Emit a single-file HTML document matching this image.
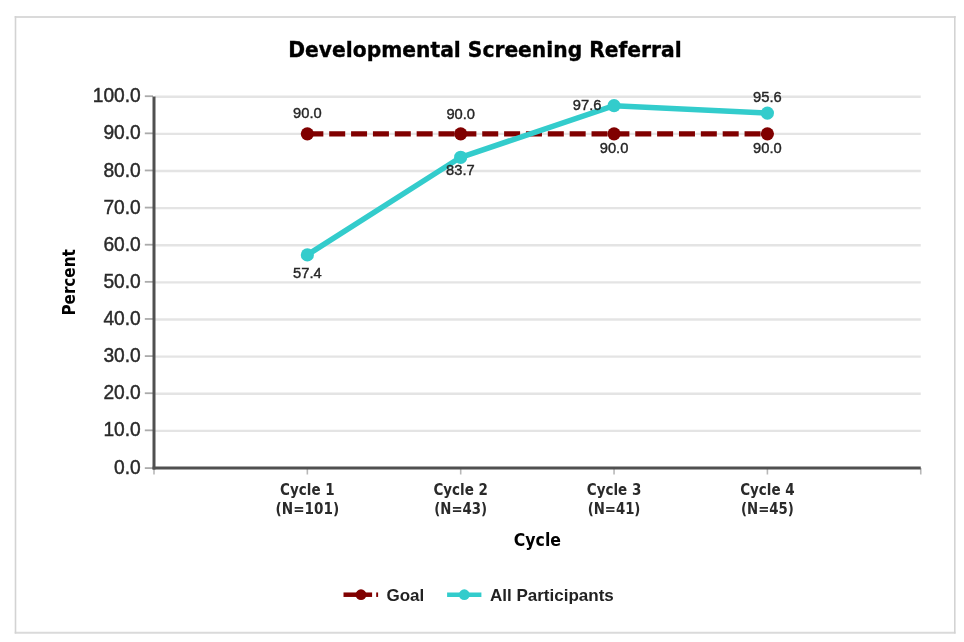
<!DOCTYPE html>
<html>
<head>
<meta charset="utf-8">
<title>Developmental Screening Referral</title>
<style>
html,body{margin:0;padding:0;background:#fff;}
body{width:964px;height:642px;overflow:hidden;position:relative;}
svg{position:absolute;left:0;top:0;display:block;filter:blur(0.4px);}
.yl{font-family:"Liberation Sans",Arial,sans-serif;font-size:20.4px;fill:#2a2a2a;stroke:#2a2a2a;stroke-width:0.45px;text-anchor:end;}
.dl{font-family:"Liberation Sans",Arial,sans-serif;font-size:15.2px;fill:#262626;stroke:#262626;stroke-width:0.4px;text-anchor:middle;}
.xl{font-family:"DejaVu Sans Condensed","DejaVu Sans",sans-serif;font-stretch:condensed;font-weight:bold;font-size:16.3px;fill:#2a2a2a;text-anchor:middle;}
.ttl{font-family:"DejaVu Sans Condensed","DejaVu Sans",sans-serif;font-stretch:condensed;font-weight:bold;font-size:22px;fill:#000;stroke:#000;stroke-width:0.35px;text-anchor:middle;}
.at{font-family:"DejaVu Sans Condensed","DejaVu Sans",sans-serif;font-stretch:condensed;font-weight:bold;font-size:17.5px;fill:#000;text-anchor:middle;}
.lg{font-family:"Liberation Sans",Arial,sans-serif;font-weight:bold;font-size:17px;fill:#222;}
</style>
</head>
<body>
<svg width="964" height="642" viewBox="0 0 964 642">
  <rect x="0" y="0" width="964" height="642" fill="#fff"/>
  <g stroke="#dadada" stroke-width="2"><line x1="14.7" y1="16.95" x2="955.6" y2="16.95"/><line x1="14.7" y1="632.7" x2="955.6" y2="632.7"/></g>
  <g stroke="#d3d3d3" stroke-width="1.6"><line x1="15.5" y1="16" x2="15.5" y2="633.6"/><line x1="954.8" y1="16" x2="954.8" y2="633.6"/></g>
  <text class="ttl" x="485" y="56.5" textLength="393.4" lengthAdjust="spacingAndGlyphs">Developmental Screening Referral</text>
  <g stroke="#e4e4e4" stroke-width="2.3">
  <line x1="155" y1="96.76" x2="920.75" y2="96.76"/>
  <line x1="155" y1="133.89" x2="920.75" y2="133.89"/>
  <line x1="155" y1="171.01" x2="920.75" y2="171.01"/>
  <line x1="155" y1="208.14" x2="920.75" y2="208.14"/>
  <line x1="155" y1="245.26" x2="920.75" y2="245.26"/>
  <line x1="155" y1="282.39" x2="920.75" y2="282.39"/>
  <line x1="155" y1="319.52" x2="920.75" y2="319.52"/>
  <line x1="155" y1="356.64" x2="920.75" y2="356.64"/>
  <line x1="155" y1="393.77" x2="920.75" y2="393.77"/>
  <line x1="155" y1="430.89" x2="920.75" y2="430.89"/>
  </g>
  <g stroke="#ababab" stroke-width="1.8">
  <line x1="144.8" y1="96.21" x2="153" y2="96.21"/>
  <line x1="144.8" y1="133.34" x2="153" y2="133.34"/>
  <line x1="144.8" y1="170.46" x2="153" y2="170.46"/>
  <line x1="144.8" y1="207.59" x2="153" y2="207.59"/>
  <line x1="144.8" y1="244.71" x2="153" y2="244.71"/>
  <line x1="144.8" y1="281.84" x2="153" y2="281.84"/>
  <line x1="144.8" y1="318.97" x2="153" y2="318.97"/>
  <line x1="144.8" y1="356.09" x2="153" y2="356.09"/>
  <line x1="144.8" y1="393.22" x2="153" y2="393.22"/>
  <line x1="144.8" y1="430.34" x2="153" y2="430.34"/>
  <line x1="144.8" y1="468.1" x2="153" y2="468.1"/>
  </g>
  <g stroke="#b8b8b8" stroke-width="1.6">
  <line x1="154" y1="468.1" x2="154" y2="474.5"/>
  <line x1="307.35" y1="468.1" x2="307.35" y2="474.5"/>
  <line x1="460.7" y1="468.1" x2="460.7" y2="474.5"/>
  <line x1="614.05" y1="468.1" x2="614.05" y2="474.5"/>
  <line x1="767.4" y1="468.1" x2="767.4" y2="474.5"/>
  <line x1="920.75" y1="468.1" x2="920.75" y2="474.5"/>
  </g>
  <line x1="154" y1="96.56" x2="154" y2="469.5" stroke="#505050" stroke-width="3.0"/>
  <line x1="152.6" y1="468.1" x2="920.75" y2="468.1" stroke="#505050" stroke-width="3.0"/>
  <g class="yl">
  <text x="140.8" y="102.26" textLength="48.04" lengthAdjust="spacingAndGlyphs">100.0</text>
  <text x="140.8" y="139.39" textLength="37.36" lengthAdjust="spacingAndGlyphs">90.0</text>
  <text x="140.8" y="176.51" textLength="37.36" lengthAdjust="spacingAndGlyphs">80.0</text>
  <text x="140.8" y="213.64" textLength="37.36" lengthAdjust="spacingAndGlyphs">70.0</text>
  <text x="140.8" y="250.76" textLength="37.36" lengthAdjust="spacingAndGlyphs">60.0</text>
  <text x="140.8" y="287.89" textLength="37.36" lengthAdjust="spacingAndGlyphs">50.0</text>
  <text x="140.8" y="325.02" textLength="37.36" lengthAdjust="spacingAndGlyphs">40.0</text>
  <text x="140.8" y="362.14" textLength="37.36" lengthAdjust="spacingAndGlyphs">30.0</text>
  <text x="140.8" y="399.27" textLength="37.36" lengthAdjust="spacingAndGlyphs">20.0</text>
  <text x="140.8" y="436.39" textLength="37.36" lengthAdjust="spacingAndGlyphs">10.0</text>
  <text x="140.8" y="473.52" textLength="26.69" lengthAdjust="spacingAndGlyphs">0.0</text>
  </g>
  <text class="at" transform="translate(74.7 282.4) rotate(-90)" x="0" y="0" textLength="66.3" lengthAdjust="spacingAndGlyphs">Percent</text>
  <g class="xl">
  <text x="307.35" y="494.8" textLength="54.5" lengthAdjust="spacingAndGlyphs">Cycle 1</text>
  <text x="307.35" y="513.8" textLength="63.5" lengthAdjust="spacingAndGlyphs">(N=101)</text>
  <text x="460.7" y="494.8" textLength="54.5" lengthAdjust="spacingAndGlyphs">Cycle 2</text>
  <text x="460.7" y="513.8" textLength="52.8" lengthAdjust="spacingAndGlyphs">(N=43)</text>
  <text x="614.05" y="494.8" textLength="54.5" lengthAdjust="spacingAndGlyphs">Cycle 3</text>
  <text x="614.05" y="513.8" textLength="52.8" lengthAdjust="spacingAndGlyphs">(N=41)</text>
  <text x="767.4" y="494.8" textLength="54.5" lengthAdjust="spacingAndGlyphs">Cycle 4</text>
  <text x="767.4" y="513.8" textLength="52.8" lengthAdjust="spacingAndGlyphs">(N=45)</text>
  </g>
  <text class="at" x="537.4" y="546.1" textLength="47.2" lengthAdjust="spacingAndGlyphs">Cycle</text>
  <line x1="307.35" y1="133.8" x2="767.4" y2="133.8" stroke="#800000" stroke-width="5.3" stroke-dasharray="16 5.86"/>
  <g fill="#800000">
  <circle cx="307.35" cy="133.8" r="6.6"/>
  <circle cx="460.7" cy="133.8" r="6.6"/>
  <circle cx="614.05" cy="133.8" r="6.6"/>
  <circle cx="767.4" cy="133.8" r="6.6"/>
  </g>
  <polyline points="307.35,254.92 460.7,157.28 614.05,105.67 767.4,113.1" fill="none" stroke="#33cccc" stroke-width="5.5" stroke-linejoin="round" stroke-linecap="round"/>
  <g fill="#33cccc">
  <circle cx="307.35" cy="254.92" r="6.6"/>
  <circle cx="460.7" cy="157.28" r="6.6"/>
  <circle cx="614.05" cy="105.67" r="6.6"/>
  <circle cx="767.4" cy="113.1" r="6.6"/>
  </g>
  <g class="dl">
  <text x="307.35" y="118.3" textLength="28.6" lengthAdjust="spacingAndGlyphs">90.0</text>
  <text x="460.7" y="118.5" textLength="28.6" lengthAdjust="spacingAndGlyphs">90.0</text>
  <text x="614.05" y="153.1" textLength="28.6" lengthAdjust="spacingAndGlyphs">90.0</text>
  <text x="767.4" y="152.7" textLength="28.6" lengthAdjust="spacingAndGlyphs">90.0</text>
  <text x="307.35" y="277.9" textLength="28.6" lengthAdjust="spacingAndGlyphs">57.4</text>
  <text x="460.4" y="175.3" textLength="28.6" lengthAdjust="spacingAndGlyphs">83.7</text>
  <text x="587.1" y="110.4" textLength="28.6" lengthAdjust="spacingAndGlyphs">97.6</text>
  <text x="767.4" y="102.3" textLength="28.6" lengthAdjust="spacingAndGlyphs">95.6</text>
  </g>
  <g stroke="#800000" stroke-width="4.5">
  <line x1="343.5" y1="594.7" x2="372.1" y2="594.7"/>
  <line x1="376.2" y1="594.7" x2="378.1" y2="594.7"/>
  </g>
  <circle cx="361" cy="594.7" r="5.4" fill="#800000"/>
  <text class="lg" x="386.5" y="600.7">Goal</text>
  <line x1="447.1" y1="594.7" x2="481.4" y2="594.7" stroke="#33cccc" stroke-width="4.5"/>
  <circle cx="464.3" cy="594.7" r="5.4" fill="#33cccc"/>
  <text class="lg" x="490" y="600.7">All Participants</text>
</svg>
</body>
</html>
